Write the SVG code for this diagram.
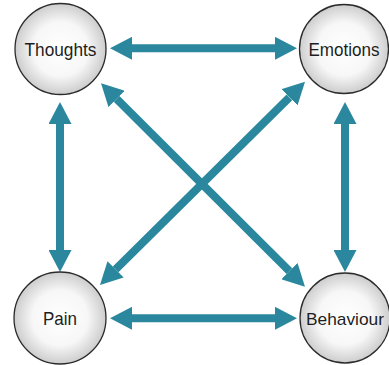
<svg xmlns="http://www.w3.org/2000/svg" width="389" height="365" viewBox="0 0 389 365">
  <defs>
    <radialGradient id="ball" cx="50%" cy="50%" r="50%">
      <stop offset="0" stop-color="#ffffff"/>
      <stop offset="0.6" stop-color="#f7f7f7"/>
      <stop offset="1" stop-color="#cdcdcd"/>
    </radialGradient>
    <marker id="head" viewBox="0 0 22 23" refX="0" refY="11.5" markerWidth="22" markerHeight="23" markerUnits="userSpaceOnUse" orient="auto-start-reverse">
      <path d="M0,0 L22,11.5 L0,23 z" fill="#2a879d"/>
    </marker>
  </defs>
  <style>
    .node circle { fill: url(#ball); stroke: #2b2b2b; stroke-width: 1.3; }
    .node text { font-family: "Liberation Sans", Arial, sans-serif; font-size: 19px; fill: #1e1e1e; text-anchor: middle; }
    .node text.long { font-size: 17px; }
    .link { stroke: #2a879d; stroke-width: 8; fill: none; marker-start: url(#head); marker-end: url(#head); }
  </style>
  <rect width="389" height="365" fill="#ffffff"/>
  <g id="connectors">
    <line class="link" x1="132" y1="48.3" x2="275" y2="48.3"/>
    <line class="link" x1="132" y1="318.3" x2="275" y2="318.3"/>
    <line class="link" x1="60" y1="124" x2="60" y2="250"/>
    <line class="link" x1="345" y1="124" x2="345" y2="250"/>
    <line class="link" x1="116.6" y1="98.9" x2="289.4" y2="271.1"/>
    <line class="link" x1="289.4" y1="97.3" x2="115.6" y2="269.4"/>
  </g>
  <g id="thoughts" class="node">
    <circle cx="60.5" cy="49" r="45.5"/>
    <text x="60.5" y="56" textLength="72" lengthAdjust="spacingAndGlyphs">Thoughts</text>
  </g>
  <g id="emotions" class="node">
    <circle cx="344" cy="49" r="44.5"/>
    <text x="344" y="56" textLength="71" lengthAdjust="spacingAndGlyphs">Emotions</text>
  </g>
  <g id="pain" class="node">
    <circle cx="60" cy="318" r="46"/>
    <text x="60" y="325" textLength="34" lengthAdjust="spacingAndGlyphs">Pain</text>
  </g>
  <g id="behaviour" class="node">
    <circle cx="345" cy="318" r="45"/>
    <text class="long" x="345" y="324.5" textLength="78" lengthAdjust="spacingAndGlyphs">Behaviour</text>
  </g>
</svg>
